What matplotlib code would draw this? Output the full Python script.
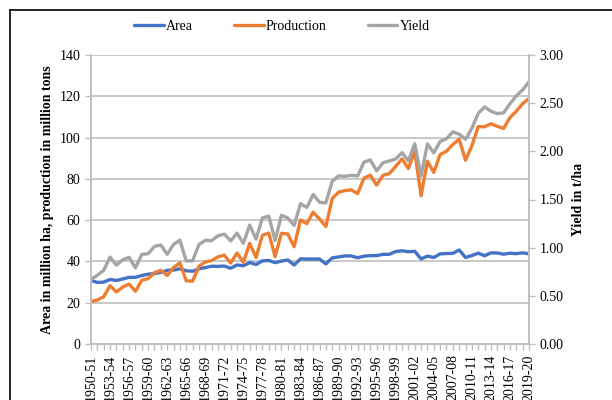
import numpy as np
import matplotlib
matplotlib.use("Agg")
import matplotlib.pyplot as plt
from matplotlib.lines import Line2D

plt.rcParams['font.family'] = ['Liberation Serif', 'DejaVu Serif']

""" data """
years = [f"{y}-{str(y + 1)[-2:]}" for y in range(1950, 2020)]

area = [30.81, 29.83, 29.97, 31.29, 30.77, 31.52, 32.28, 32.30, 33.17, 33.82,
        34.13, 34.69, 35.69, 35.81, 36.46, 35.47, 35.25, 36.44, 37.01, 37.68,
        37.59, 37.76, 36.69, 38.29, 37.89, 39.48, 38.51, 40.28, 40.48, 39.42,
        40.15, 40.71, 38.26, 41.24, 41.16, 41.14, 41.17, 38.81, 41.73, 42.17,
        42.69, 42.65, 41.78, 42.54, 42.81, 42.84, 43.43, 43.45, 44.80, 45.16,
        44.71, 44.90, 41.18, 42.59, 41.91, 43.66, 43.81, 43.91, 45.54, 41.92,
        42.86, 44.01, 42.75, 44.14, 44.11, 43.50, 43.99, 43.77, 44.16, 43.66]

production = [20.58, 21.30, 22.90, 28.21, 25.22, 27.56, 29.04, 25.53, 30.85, 31.68,
              34.58, 35.66, 33.21, 37.00, 39.31, 30.59, 30.44, 37.61, 39.76, 40.43,
              42.22, 43.07, 39.24, 44.05, 39.58, 48.74, 41.92, 52.67, 53.77, 42.33,
              53.63, 53.25, 47.12, 60.10, 58.34, 63.83, 60.56, 56.86, 70.49, 73.57,
              74.29, 74.68, 72.86, 80.30, 81.81, 76.98, 81.73, 82.53, 86.08, 89.68,
              84.98, 93.34, 71.82, 88.53, 83.13, 91.79, 93.36, 96.69, 99.18, 89.09,
              95.98, 105.30, 105.23, 106.65, 105.48, 104.41, 109.70, 112.76, 116.48, 118.87]

yield_t = [0.668, 0.714, 0.764, 0.902, 0.820, 0.874, 0.900, 0.790, 0.930, 0.937,
           1.013, 1.028, 0.931, 1.033, 1.078, 0.862, 0.863, 1.032, 1.076, 1.073,
           1.123, 1.141, 1.070, 1.151, 1.045, 1.235, 1.089, 1.308, 1.328, 1.074,
           1.336, 1.308, 1.231, 1.457, 1.417, 1.552, 1.471, 1.465, 1.689, 1.745,
           1.740, 1.751, 1.744, 1.888, 1.911, 1.797, 1.882, 1.900, 1.921, 1.986,
           1.901, 2.079, 1.744, 2.077, 1.984, 2.102, 2.131, 2.202, 2.178, 2.125,
           2.239, 2.393, 2.461, 2.416, 2.391, 2.400, 2.494, 2.576, 2.638, 2.722]

""" styles """
c_area = '#4472C4'
c_prod = '#ED7D31'
c_yield = '#A5A5A5'
c_axis = '#BFBFBF'
lw = 2.4
fs = 10

fig = plt.figure(figsize=(6.12, 4.0), dpi=100)
ax = fig.add_axes([91 / 612, 1 - 344 / 400, (529 - 91) / 612, (344 - 55) / 400])
ax2 = ax.twinx()

x = np.arange(len(years))
l1, = ax.plot(x, area, color=c_area, lw=lw, label='Area', solid_capstyle='round')
l2, = ax.plot(x, production, color=c_prod, lw=lw, label='Production', solid_capstyle='round')
l3, = ax2.plot(x, yield_t, color=c_yield, lw=lw, label='Yield', solid_capstyle='round')

ax.set_xlim(0, len(years) - 1)
ax.set_ylim(0, 140)
ax.set_yticks(np.arange(0, 141, 20))
ax2.set_ylim(0, 3)
ax2.set_yticks(np.arange(0, 3.01, 0.5))
ax2.set_yticklabels([f"{v:.2f}" for v in np.arange(0, 3.01, 0.5)])

ax.set_xticks(x)
ax.set_xticklabels([y if i % 3 == 0 else '' for i, y in enumerate(years)],
                   rotation=90, fontsize=fs)

ax.yaxis.grid(True, color=c_axis, lw=1.2)
ax.set_axisbelow(True)

for a in (ax, ax2):
    a.spines['top'].set_visible(False)
    for s in ('left', 'right', 'bottom'):
        a.spines[s].set_color(c_axis)
        a.spines[s].set_linewidth(1.2)
    a.tick_params(colors=c_axis, labelcolor='black', labelsize=fs,
                  length=4, width=1, direction='out')

ax.set_ylabel('Area in million ha, production in million tons',
              fontsize=fs, fontweight='bold', labelpad=4)
ax2.set_ylabel('Yield in t/ha', fontsize=fs, fontweight='bold', labelpad=6)

fig.legend(handles=[l1, l2, l3], loc='center', bbox_to_anchor=(282 / 612, 1 - 26 / 400),
           ncol=3, frameon=False, fontsize=fs, handlelength=2.1,
           handletextpad=0.15, columnspacing=3.0)

# outer frame of the chart (cut off at right and bottom)
fig.add_artist(Line2D([10 / 612, 1.0], [1 - 10 / 400, 1 - 10 / 400],
                      transform=fig.transFigure, color='black', lw=1.2))
fig.add_artist(Line2D([10 / 612, 10 / 612], [0.0, 1 - 10 / 400],
                      transform=fig.transFigure, color='black', lw=1.2))

fig.savefig('out.png', dpi=100)
